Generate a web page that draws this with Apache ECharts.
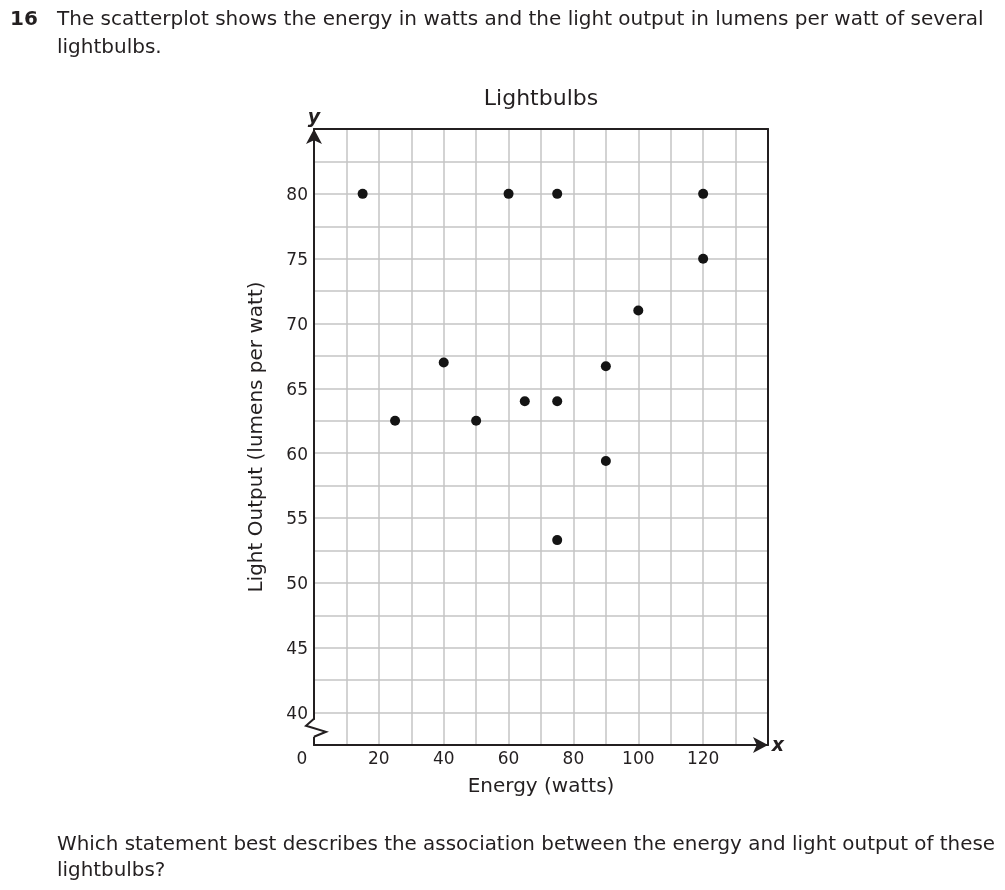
<!DOCTYPE html>
<html><head><meta charset="utf-8">
<script src="https://cdn.jsdelivr.net/npm/echarts@6/dist/echarts.min.js"></script>
<style>html,body{margin:0;padding:0;background:#fff}#c{width:1005px;height:890px}</style>
</head><body><div id="c"></div>
<script>
const energyWatts = [15, 25, 40, 50, 60, 65, 75, 75, 75, 90, 90, 100, 120, 120];
const lightOutput = [80, 62.5, 67, 62.5, 80, 64, 80, 64, 53.3, 66.7, 59.4, 71, 80, 75];
const xTickLabels = [20, 40, 60, 80, 100, 120];
const yTickLabels = [40, 45, 50, 55, 60, 65, 70, 75, 80];
const chartTitle = 'Lightbulbs';
const xAxisTitle = 'Energy (watts)';
const yAxisTitle = 'Light Output (lumens per watt)';
const questionNumber = '16';
const introLines = ['The scatterplot shows the energy in watts and the light output in lumens per watt of several', 'lightbulbs.'];
const questionLines = ['Which statement best describes the association between the energy and light output of these', 'lightbulbs?'];

const FONT = "'DejaVu Sans', Verdana, sans-serif";
const INK = '#231f20';
const GRID = '#c4c4c4';

const points = energyWatts.map((x, i) => [x, lightOutput[i]]);

const frameAxis = {
  type: 'value', axisLine: {show: true, onZero: false, lineStyle: {color: INK, width: 2}},
  axisTick: {show: false}, axisLabel: {show: false}, splitLine: {show: false}, z: 25
};

const chart = echarts.init(document.getElementById('c'), null, {renderer: 'canvas'});
chart.setOption({
  animation: false,
  backgroundColor: '#fff',
  textStyle: {fontFamily: FONT, color: INK},
  grid: {left: 314, top: 129, right: 237, bottom: 145},
  xAxis: [{
    type: 'value', min: 0, max: 140, interval: 10,
    name: xAxisTitle, nameLocation: 'middle', nameGap: 32,
    nameTextStyle: {fontFamily: FONT, fontSize: 20, color: INK},
    axisLine: {show: true, onZero: false, lineStyle: {color: INK, width: 2}, symbol: ['none', 'arrow'], symbolSize: [12, 15]},
    axisTick: {show: false},
    splitLine: {show: true, lineStyle: {color: GRID, width: 1.5}},
    axisLabel: {
      margin: 6, fontFamily: FONT, fontSize: 17, color: INK,
      formatter: v => v === 0 ? '{z|0}' : (xTickLabels.indexOf(v) >= 0 ? String(v) : ''),
      rich: {z: {fontFamily: FONT, fontSize: 17, color: INK, padding: [0, 24, 0, 0]}}
    },
    z: 20
  }, Object.assign({position: 'top', min: 0, max: 140}, frameAxis)],
  yAxis: [{
    type: 'value', min: 37.5, max: 85, interval: 2.5,
    name: yAxisTitle, nameLocation: 'middle', nameGap: 47,
    nameTextStyle: {fontFamily: FONT, fontSize: 20, color: INK},
    axisLine: {show: true, onZero: false, lineStyle: {color: INK, width: 2}, symbol: ['none', 'arrow'], symbolSize: [12, 15]},
    axisTick: {show: false},
    splitLine: {show: true, lineStyle: {color: GRID, width: 1.5}},
    axisLabel: {
      margin: 6, fontFamily: FONT, fontSize: 17, color: INK,
      formatter: v => yTickLabels.indexOf(v) >= 0 ? '{t|' + v + '}' : '',
      rich: {t: {fontFamily: FONT, fontSize: 17, color: INK, padding: [4, 0, 0, 0]}}
    },
    z: 20
  }, Object.assign({position: 'right', min: 37.5, max: 85}, frameAxis)],
  series: [{
    type: 'scatter', data: points, symbol: 'circle', symbolSize: 10,
    itemStyle: {color: '#141414', opacity: 1}, z: 30
  }]
});

const brk = chart.convertToPixel({gridIndex: 0}, [0, 38.75]);
const yTop = chart.convertToPixel({gridIndex: 0}, [0, 85]);
const xEnd = chart.convertToPixel({gridIndex: 0}, [140, 37.5]);
const mid = chart.convertToPixel({gridIndex: 0}, [70, 85]);
const bx = brk[0], by = brk[1];

chart.setOption({
  graphic: [
    {type: 'text', z: 100, x: 10, y: 20, style: {text: questionNumber, font: "bold 20px " + FONT, fill: INK, verticalAlign: 'middle'}},
    {type: 'text', z: 100, x: 57, y: 20, style: {text: introLines[0], font: "20px " + FONT, fill: INK, verticalAlign: 'middle'}},
    {type: 'text', z: 100, x: 57, y: 48, style: {text: introLines[1], font: "20px " + FONT, fill: INK, verticalAlign: 'middle'}},
    {type: 'text', z: 100, x: 57, y: 845, style: {text: questionLines[0], font: "19.9px " + FONT, fill: INK, verticalAlign: 'middle'}},
    {type: 'text', z: 100, x: 57, y: 871, style: {text: questionLines[1], font: "19.9px " + FONT, fill: INK, verticalAlign: 'middle'}},
    {type: 'text', z: 100, x: mid[0], y: 99, style: {text: chartTitle, font: "22px " + FONT, fill: INK, align: 'center', verticalAlign: 'middle'}},
    {type: 'text', z: 100, x: yTop[0], y: yTop[1] - 11, style: {text: 'y', font: "italic bold 19px " + FONT, fill: INK, align: 'center', verticalAlign: 'middle'}},
    {type: 'text', z: 100, x: xEnd[0] + 10, y: xEnd[1] + 1, style: {text: 'x', font: "italic bold 19px " + FONT, fill: INK, align: 'center', verticalAlign: 'middle'}},
    {type: 'rect', z: 100, shape: {x: bx - 3, y: by - 9, width: 6, height: 17}, style: {fill: '#fff'}},
    {type: 'polyline', z: 101, shape: {points: [[bx, by - 10], [bx - 8, by - 3], [bx + 12, by + 3], [bx, by + 8]]}, style: {stroke: INK, lineWidth: 2, fill: null}}
  ]
});
</script>
</body></html>
